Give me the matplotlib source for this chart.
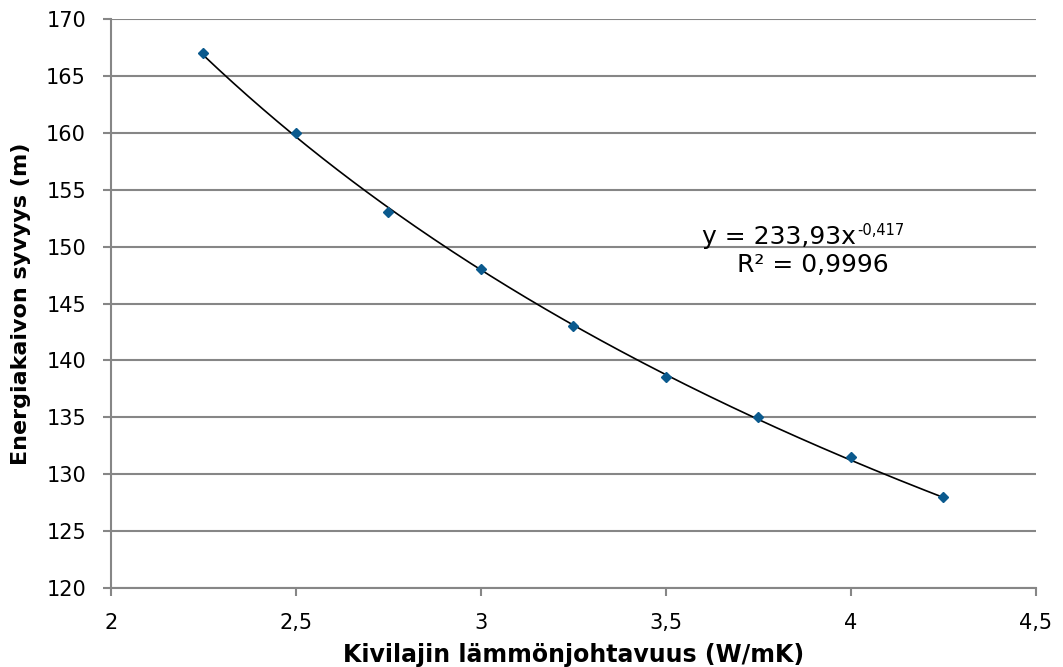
import numpy as np
import matplotlib.pyplot as plt
from matplotlib.ticker import FuncFormatter

# Data
conductivity = [2.25, 2.5, 2.75, 3.0, 3.25, 3.5, 3.75, 4.0, 4.25]
depth = [167, 160, 153, 148, 143, 138.5, 135, 131.5, 128]
coef = 233.93
expo = -0.417
r2 = 0.9996

plt.rcParams['font.family'] = ['DejaVu Sans']
grey = '#868686'

fig = plt.figure(figsize=(10.63, 6.67), dpi=100)
ax = fig.add_axes([0.1044, 0.1184, 0.8702, 0.8531])

# power trendline
xs = np.linspace(conductivity[0], conductivity[-1], 200)
ax.plot(xs, coef * xs ** expo, color='black', lw=1.2, zorder=2)
ax.plot(conductivity, depth, 'D', color='#0b5a8e', ms=5.5, zorder=3)

ax.set_xlim(2, 4.5)
ax.set_ylim(120, 170)
ax.set_xticks(np.arange(2, 4.51, 0.5))
ax.set_yticks(np.arange(120, 171, 5))
fmt = FuncFormatter(lambda v, p: ('%g' % v).replace('.', ','))
ax.xaxis.set_major_formatter(fmt)
ax.yaxis.set_major_formatter(fmt)
ax.grid(axis='y', color=grey, lw=1.5)
ax.set_axisbelow(True)
for s in ['top', 'right']:
    ax.spines[s].set_visible(False)
for s in ['left', 'bottom']:
    ax.spines[s].set_color(grey)
    ax.spines[s].set_linewidth(1.5)
ax.tick_params(colors=grey, width=1.5, length=6, labelsize=15, labelcolor='black', pad=12)

fig.text(573.5 / 1063, 1 - 643 / 667, 'Kivilajin lämmönjohtavuus (W/mK)', fontsize=17,
         fontweight='bold', ha='center', va='top')
fig.text(11 / 1063, 1 - 303.5 / 667, 'Energiakaivon syvyys (m)', fontsize=16,
         fontweight='bold', rotation=90, ha='left', va='center')

eq = 'y = ' + ('%.2f' % coef).replace('.', ',') + 'x'
ax.text(3.597, 150.23, eq, fontsize=18, ha='left', va='baseline')
ax.text(4.016, 151.02, ('%g' % expo).replace('.', ','), fontsize=10.5, ha='left', va='baseline')
ax.text(3.692, 147.77, 'R² = ' + ('%g' % r2).replace('.', ','), fontsize=18, ha='left', va='baseline')

fig.savefig('out.png', dpi=100)
